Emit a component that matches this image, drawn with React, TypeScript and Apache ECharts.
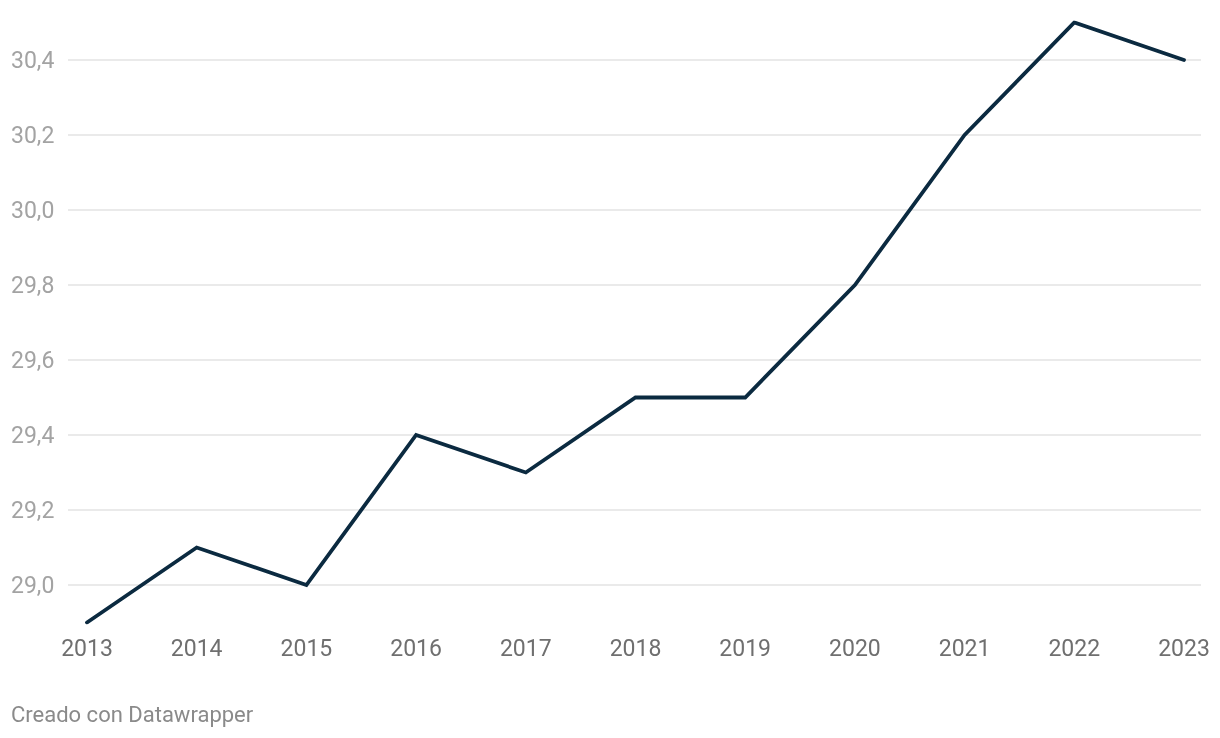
import React, { useEffect, useRef } from "react";
import * as echarts from "echarts";

const years = [2013, 2014, 2015, 2016, 2017, 2018, 2019, 2020, 2021, 2022, 2023];
const values = [28.9, 29.1, 29.0, 29.4, 29.3, 29.5, 29.5, 29.8, 30.2, 30.5, 30.4];
const yTicks = [29.0, 29.2, 29.4, 29.6, 29.8, 30.0, 30.2, 30.4];

export default function App() {
  const ref = useRef<HTMLDivElement>(null);
  useEffect(() => {
    if (!ref.current) return;
    const chart = echarts.init(ref.current, null, { renderer: "svg" });
    chart.setOption({
      animation: false,
      grid: { left: 68, right: 19, top: 22.5, bottom: 738 - 622.5, containLabel: false },
      xAxis: {
        type: "value",
        min: 2013 - 19 / 109.7,
        max: 2023 + 17 / 109.7,
        axisLine: { show: false },
        axisTick: { show: false, customValues: years },
        splitLine: { show: false },
        axisLabel: {
          customValues: years,
          formatter: (v: number) => String(Math.round(v)),
          color: "#6f6f6f",
          fontFamily: "Roboto",
          fontSize: 23,
          margin: 14,
        },
      },
      yAxis: {
        type: "value",
        min: 28.9,
        max: 30.5,
        axisLine: { show: false },
        axisTick: { show: false, customValues: yTicks },
        splitLine: { show: true, lineStyle: { color: "#e3e3e3", width: 1.5 } },
        axisLabel: {
          customValues: yTicks,
          formatter: (v: number) => v.toFixed(1).replace(".", ","),
          color: "#a3a3a3",
          fontFamily: "Roboto",
          fontSize: 23,
          align: "left",
          margin: 57,
        },
      },
      series: [
        {
          type: "line",
          data: years.map((y, i) => [y, values[i]]),
          showSymbol: false,
          lineStyle: { color: "#0b2a40", width: 3.8, cap: "round", join: "miter" },
        },
      ],
      graphic: [
        {
          type: "text",
          left: 11,
          top: 703,
          style: {
            text: "Creado con Datawrapper",
            fill: "#8a8a8a",
            font: "22px Roboto",
          },
        },
      ],
    });
    return () => chart.dispose();
  }, []);
  return <div ref={ref} style={{ position: "fixed", left: 0, top: 0, width: 1220, height: 738 }} />;
}
